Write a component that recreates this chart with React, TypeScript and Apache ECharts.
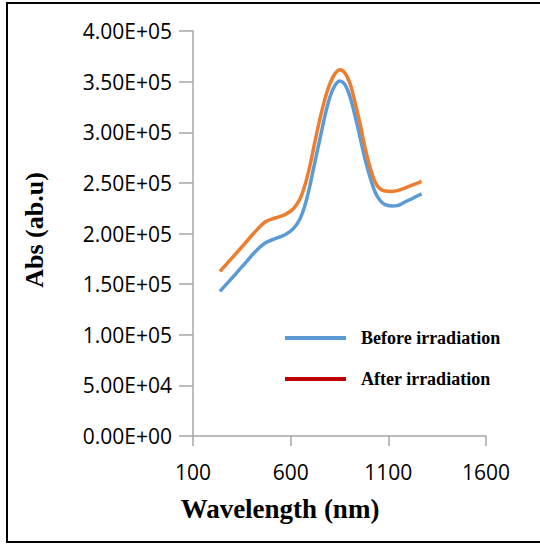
import React, { useEffect, useRef } from "react";
import * as echarts from "echarts";

const wavelength = [238, 315, 366, 417, 469, 520, 571, 614, 648, 673, 699, 724, 750, 776, 801, 827, 852, 878, 904, 929, 955, 980, 1006, 1032, 1057, 1083, 1117, 1151, 1185, 1228, 1270];
const absBefore = [142900, 159300, 170500, 181700, 190600, 194900, 198800, 204800, 214600, 227800, 247600, 270600, 293700, 316700, 334800, 346300, 350600, 347000, 334800, 316700, 295300, 273900, 255800, 241000, 232800, 228500, 227200, 227800, 231100, 235100, 239300];
const absAfter = [162600, 179100, 190300, 201500, 211400, 215300, 218600, 224500, 234400, 247600, 267300, 290400, 313400, 333200, 348000, 357900, 361800, 358500, 348000, 329900, 308500, 285400, 265700, 250900, 244300, 242000, 241600, 242600, 244900, 248200, 251500];
const seriesNames = ["Before irradiation", "After irradiation"];
const xTitle = "Wavelength (nm)";
const yTitle = "Abs (ab.u)";

function sci(v: number): string {
  if (v === 0) return "0.00E+00";
  const e = Math.floor(Math.log10(Math.abs(v)) + 1e-9);
  const m = v / Math.pow(10, e);
  const es = (e < 0 ? "-" : "+") + String(Math.abs(e)).padStart(2, "0");
  return m.toFixed(2) + "E" + es;
}

export default function App() {
  const ref = useRef<HTMLDivElement>(null);
  useEffect(() => {
    document.body.style.margin = "0";
    const chart = echarts.init(ref.current!, null, { renderer: "svg" });
    const axisColor = "#a6a6a6";
    const labelFont = { fontFamily: "Open Sans", fontSize: 21, color: "#000" };
    chart.setOption({
      animation: false,
      backgroundColor: "#fff",
      grid: { left: 193, right: 54, top: 31, bottom: 108, containLabel: false },
      xAxis: {
        type: "value",
        min: 100,
        max: 1600,
        interval: 500,
        axisLine: { show: true, lineStyle: { color: axisColor, width: 1.5 } },
        axisTick: { show: true, length: 10, lineStyle: { color: axisColor, width: 1.5 } },
        axisLabel: { ...labelFont, margin: 25, formatter: (v: number) => String(v) },
        splitLine: { show: false },
      },
      yAxis: {
        type: "value",
        min: 0,
        max: 400000,
        interval: 50000,
        axisLine: { show: true, lineStyle: { color: axisColor, width: 1.5 } },
        axisTick: { show: true, length: 14, lineStyle: { color: axisColor, width: 1.5 } },
        axisLabel: { ...labelFont, margin: 21, formatter: (v: number) => sci(v) },
        splitLine: { show: false },
      },
      legend: {
        orient: "vertical",
        left: 280,
        top: 324,
        itemWidth: 61,
        itemHeight: 4,
        itemGap: 23,
        icon: "rect",
        textStyle: {
          fontFamily: "Liberation Serif",
          fontWeight: "bold",
          fontSize: 18,
          color: "#000",
          padding: [0, 0, 0, 10],
        },
        data: [
          { name: seriesNames[0], itemStyle: { color: "#5B9BD5" } },
          { name: seriesNames[1], itemStyle: { color: "#C00000" } },
        ],
      },
      series: [
        {
          name: seriesNames[0],
          type: "line",
          smooth: 0.3,
          showSymbol: false,
          symbol: "none",
          lineStyle: { color: "#5B9BD5", width: 3.5 },
          itemStyle: { color: "#5B9BD5" },
          data: wavelength.map((x, i) => [x, absBefore[i]]),
        },
        {
          name: seriesNames[1],
          type: "line",
          smooth: 0.3,
          showSymbol: false,
          symbol: "none",
          lineStyle: { color: "#ED7D31", width: 3.5 },
          itemStyle: { color: "#ED7D31" },
          data: wavelength.map((x, i) => [x, absAfter[i]]),
        },
      ],
      graphic: [
        {
          type: "rect",
          shape: { x: 7, y: 3, width: 600, height: 539 },
          style: { fill: "none", stroke: "#000", lineWidth: 2 },
          silent: true,
        },
        {
          type: "text",
          x: 280,
          y: 509,
          style: {
            text: xTitle,
            fontFamily: "Liberation Serif",
            fontWeight: "bold",
            fontSize: 27,
            fill: "#000",
            align: "center",
            verticalAlign: "middle",
          },
        },
        {
          type: "text",
          x: 34,
          y: 230,
          rotation: Math.PI / 2,
          style: {
            text: yTitle,
            fontFamily: "Liberation Serif",
            fontWeight: "bold",
            fontSize: 26,
            fill: "#000",
            align: "center",
            verticalAlign: "middle",
          },
        },
      ],
    });
    return () => chart.dispose();
  }, []);
  return <div ref={ref} style={{ width: 540, height: 544 }} />;
}
